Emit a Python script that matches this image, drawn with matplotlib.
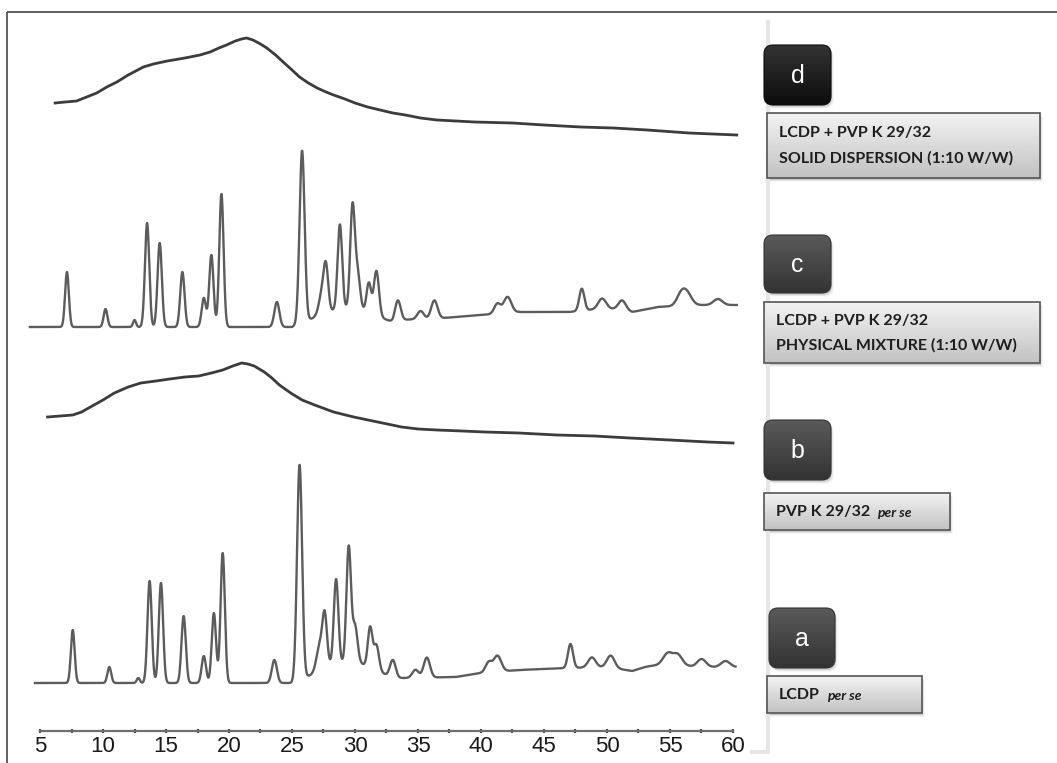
import matplotlib
matplotlib.use("Agg")
import matplotlib.pyplot as plt
import numpy as np
from matplotlib.patches import FancyBboxPatch, Rectangle
from matplotlib.ticker import MultipleLocator

W, H = 1057, 763

# ---- data (2-theta in degrees, intensity in arbitrary units) ----
# a: LCDP per se (crystalline)
a_range = (4.6, 60.2)
a_offset = 48
a_peaks = [7.6, 10.5, 12.8, 13.7, 14.6, 16.4, 18.0, 18.8, 19.5, 23.6, 25.6, 27.2, 27.6,
           28.5, 29.5, 30.0, 31.2, 31.7, 33.0, 34.8, 35.7, 40.6, 41.3, 47.1, 48.8, 50.3,
           54.8, 55.6, 57.5, 59.4]
a_heights = [53, 16, 5, 102, 100, 67, 27, 70, 130, 23, 215, 25, 50,
             85, 115, 35, 40, 25, 18, 8, 20, 10, 16, 24, 10, 12,
             10, 10, 8, 6]
a_widths = [0.15, 0.15, 0.12, 0.17, 0.17, 0.17, 0.17, 0.17, 0.17, 0.2, 0.2, 0.25, 0.18,
            0.18, 0.18, 0.2, 0.18, 0.2, 0.22, 0.25, 0.25, 0.25, 0.3, 0.2, 0.3, 0.3,
            0.35, 0.35, 0.35, 0.35]
a_base_x = [4.6, 25.0, 26.5, 28.0, 30.0, 31.5, 33.0, 34.0, 38.0, 40.0, 43.0, 47.0, 50.0, 52.0,
            53.0, 55.0, 57.0, 60.2]
a_base_y = [0, 0, 8, 18, 22, 14, 5, 5, 6, 10, 13, 15, 16, 12, 16, 20, 16, 16]

# c: LCDP + PVP K 29/32 physical mixture (1:10 w/w)
c_range = (4.2, 60.3)
c_offset = 404
c_peaks = [7.14, 10.2, 12.5, 13.5, 14.5, 16.3, 18.0, 18.6, 19.4, 23.8, 25.8, 27.4, 27.7,
           28.8, 29.8, 30.2, 31.1, 31.7, 33.4, 35.2, 36.3, 41.3, 42.1, 48.0, 49.6, 51.2,
           55.9, 56.4, 58.8]
c_heights = [55, 18, 7, 104, 84, 55, 29, 72, 133, 25, 172, 22, 40,
             85, 100, 35, 30, 45, 20, 8, 18, 10, 16, 22, 10, 10,
             12, 10, 6]
c_widths = [0.15, 0.15, 0.12, 0.17, 0.17, 0.17, 0.17, 0.17, 0.17, 0.2, 0.2, 0.25, 0.18,
            0.18, 0.18, 0.2, 0.18, 0.2, 0.22, 0.25, 0.25, 0.25, 0.3, 0.2, 0.3, 0.3,
            0.35, 0.35, 0.35]
c_base_x = [4.2, 25.0, 26.5, 28.0, 30.0, 31.5, 33.0, 33.5, 37.0, 40.0, 43.0, 47.0, 50.0, 52.0,
            54.0, 57.0, 60.3]
c_base_y = [0, 0, 8, 16, 20, 12, 5, 7, 9, 12, 15, 15, 19, 15, 20, 22, 22]

# b: PVP K 29/32 per se (amorphous halo)
b_x = [5.6, 6.6, 7.6, 8.3, 9.0, 10.0, 10.9, 12.0, 13.0, 14.2, 15.3, 16.5, 17.6, 18.6,
       19.5, 20.3, 21.0, 21.5, 22.0, 22.8, 23.4, 24.0, 24.9, 25.8, 26.8, 28.3, 29.9,
       31.8, 33.7, 35.0, 36.5, 38.5, 40.3, 43.0, 46.0, 49.0, 51.8, 55.0, 58.0, 60.0]
b_y = [314, 315, 316, 319, 324, 331, 338, 344, 348, 350, 352, 354, 355, 358,
       361, 365, 368, 367, 365, 359, 353, 346, 338, 331, 326, 319, 314,
       309, 304, 302, 301, 300, 299, 298, 296, 295, 293, 291, 289, 288]

# d: LCDP + PVP K 29/32 solid dispersion (1:10 w/w) (amorphous halo)
d_x = [6.2, 7.0, 7.9, 8.7, 9.5, 10.3, 11.1, 12.0, 13.2, 14.0, 15.1, 16.5, 17.7, 18.5,
       19.2, 19.8, 20.5, 21.0, 21.4, 21.9, 22.5, 23.0, 23.7, 24.3, 25.0, 25.6, 26.3,
       27.0, 27.7, 28.3, 29.2, 30.0, 31.0, 32.0, 33.0, 34.0, 35.2, 36.5, 38.0, 39.5,
       42.5, 45.0, 47.9, 50.5, 53.2, 56.5, 60.3]
d_y = [628, 629, 630, 634, 638, 644, 649, 656, 664, 667, 670, 673, 676, 679,
       683, 686, 690, 692, 693, 691, 687, 683, 676, 669, 661, 654, 648,
       643, 639, 636, 632, 628, 624, 621, 618, 616, 613, 611, 610, 609,
       608, 606, 604, 603, 601, 598, 596]

tick_values = list(range(5, 61, 5))

letters = ["d", "c", "b", "a"]
label_lines = [
    ["LCDP + PVP K 29/32", "SOLID DISPERSION (1:10 W/W)"],
    ["LCDP + PVP K 29/32", "PHYSICAL MIXTURE (1:10 W/W)"],
    ["PVP K 29/32"],
    ["LCDP"],
]
label_italic = ["", "", "per se", "per se"]


def pattern(xr, offset, peaks, heights, widths, base_x, base_y):
    x = np.linspace(xr[0], xr[1], 4000)
    y = np.interp(x, base_x, base_y)
    for p, h, w in zip(peaks, heights, widths):
        y = y + h * np.exp(-0.5 * ((x - p) / w) ** 2)
    return x, y + offset


def main() -> None:
    fig = plt.figure(figsize=(W / 100, H / 100), dpi=100)
    fig.patch.set_facecolor("white")

    # overlay in pixel coordinates for frame and labels
    ov = fig.add_axes([0, 0, 1, 1])
    ov.set_xlim(0, W)
    ov.set_ylim(H, 0)
    ov.axis("off")

    ov.plot([7, W], [12, 12], color="#444444", lw=1.2, solid_capstyle="butt")
    ov.plot([7, 7], [12, H], color="#444444", lw=1.2, solid_capstyle="butt")
    ov.plot([768, 768, 752], [22, 752, 752], color="#e6e6e6", lw=3)

    # plot area
    px_per_deg = 693 / 55
    left_px, right_px, top_px, axis_px = 25, 745, 12, 731
    ax = fig.add_axes([left_px / W, (H - axis_px) / H, (right_px - left_px) / W,
                       (axis_px - top_px) / H])
    ax.patch.set_alpha(0)
    ax.set_xlim(5 + (left_px - 40) / px_per_deg, 5 + (right_px - 40) / px_per_deg)
    ax.set_ylim(0, axis_px - top_px)

    xa, ya = pattern(a_range, a_offset, a_peaks, a_heights, a_widths, a_base_x, a_base_y)
    xc, yc = pattern(c_range, c_offset, c_peaks, c_heights, c_widths, c_base_x, c_base_y)
    ax.plot(xa, ya, color="#5c5c5c", lw=1.7)
    ax.plot(xc, yc, color="#5c5c5c", lw=1.7)
    ax.plot(b_x, b_y, color="#3c3c3c", lw=2.0)
    ax.plot(d_x, d_y, color="#3c3c3c", lw=2.0)

    for side in ["left", "right", "top"]:
        ax.spines[side].set_visible(False)
    ax.spines["bottom"].set_bounds(5, 60)
    ax.spines["bottom"].set_color("#707070")
    ax.spines["bottom"].set_linewidth(1.6)
    ax.set_yticks([])
    ax.set_xticks(tick_values)
    ax.set_xticklabels([str(v) for v in tick_values],
                       family=["Liberation Sans Narrow", "Liberation Sans"])
    ax.xaxis.set_minor_locator(MultipleLocator(2.5))
    ax.tick_params(axis="x", which="both", direction="inout", length=3, width=1.6,
                   colors="#444444", labelsize=16, pad=2, labelcolor="#1a1a1a")

    # right-hand labels
    letter_boxes = [(764, 45, 831, 105), (764, 235, 831, 293), (764, 420, 831, 480),
                    (769, 608, 835, 668)]
    letter_colors = [("#333333", "#0c0c0c"), ("#5a5a5a", "#333333"),
                     ("#5a5a5a", "#333333"), ("#5a5a5a", "#333333")]
    text_boxes = [(767, 113, 1040, 178), (764, 302, 1040, 363), (764, 493, 950, 530),
                  (767, 676, 922, 713)]
    line_y = [[133, 158], [321, 345], [512], [695]]

    renderer = fig.canvas.get_renderer()
    inv = ov.transData.inverted()

    for i in range(4):
        x0, y0, x1, y1 = letter_boxes[i]
        r = 9
        for k, al in enumerate([0.10, 0.06, 0.03]):
            ov.add_patch(FancyBboxPatch((x0 + r + 1 + k, y0 + r + 2 + k), x1 - x0 - 2 * r,
                                        y1 - y0 - 2 * r, boxstyle=f"round,pad={r}",
                                        facecolor="black", alpha=al, lw=0, zorder=1))
        box = FancyBboxPatch((x0 + r, y0 + r), x1 - x0 - 2 * r, y1 - y0 - 2 * r,
                             boxstyle=f"round,pad={r}", facecolor="none",
                             edgecolor=letter_colors[i][1], lw=0.8, zorder=3)
        ov.add_patch(box)
        top_c = np.array(matplotlib.colors.to_rgb(letter_colors[i][0]))
        bot_c = np.array(matplotlib.colors.to_rgb(letter_colors[i][1]))
        t = np.linspace(0, 1, 64)[:, None, None]
        grad = top_c[None, None, :] * (1 - t) + bot_c[None, None, :] * t
        im = ov.imshow(grad, extent=(x0, x1, y1, y0), aspect="auto", zorder=2)
        im.set_clip_path(box)
        ov.text((x0 + x1) / 2, (y0 + y1) / 2 + 1, letters[i], color="white", fontsize=18,
                ha="center", va="center", family="Liberation Sans", zorder=4)

        x0, y0, x1, y1 = text_boxes[i]
        for k, al in enumerate([0.12, 0.07, 0.03]):
            ov.add_patch(Rectangle((x0 + 1 + k, y0 + 2 + k), x1 - x0, y1 - y0,
                                   facecolor="black", alpha=al, lw=0, zorder=1))
        rect = Rectangle((x0, y0), x1 - x0, y1 - y0, facecolor="none", edgecolor="#555555",
                         lw=1.2, zorder=3)
        ov.add_patch(rect)
        t = np.linspace(0, 1, 64)[:, None]
        grad = 0.95 * (1 - t) + 0.76 * t
        im = ov.imshow(grad, extent=(x0, x1, y1, y0), aspect="auto", cmap="gray",
                       vmin=0, vmax=1, zorder=2)
        im.set_clip_path(rect)
        last = None
        for line, yy in zip(label_lines[i], line_y[i]):
            last = ov.text(x0 + 12, yy, line, fontsize=11.5, fontweight="bold",
                           family="Lato", color="#1e1e1e", ha="left", va="center",
                           zorder=4)
        if label_italic[i]:
            ov.set_xlim(0, W)
            ov.set_ylim(H, 0)
            bb = last.get_window_extent(renderer=renderer)
            x_end = inv.transform((bb.x1, bb.y0))[0]
            ov.text(x_end + 7, line_y[i][0] + 1, label_italic[i], fontsize=10,
                    fontweight="bold", fontstyle="italic", family="Lato", color="#1e1e1e",
                    ha="left", va="center", zorder=4)

    ov.set_xlim(0, W)
    ov.set_ylim(H, 0)

    fig.savefig("out.png", dpi=100)


if __name__ == "__main__":
    main()
